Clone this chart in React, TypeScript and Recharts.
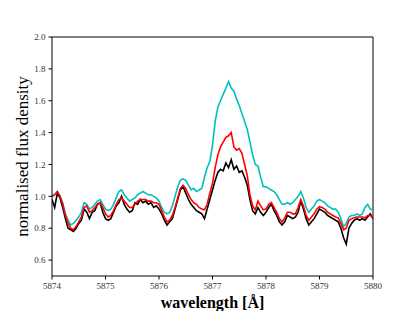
import {
  LineChart,
  Line,
  XAxis,
  YAxis,
  ReferenceLine,
} from "recharts";

const wavelength = [
  5874.0, 5874.05, 5874.1, 5874.15, 5874.2, 5874.25, 5874.3, 5874.35, 5874.4, 5874.45,
  5874.5, 5874.55, 5874.6, 5874.65, 5874.7, 5874.75, 5874.8, 5874.85, 5874.9, 5874.95,
  5875.0, 5875.05, 5875.1, 5875.15, 5875.2, 5875.25, 5875.3, 5875.35, 5875.4, 5875.45,
  5875.5, 5875.55, 5875.6, 5875.65, 5875.7, 5875.75, 5875.8, 5875.85, 5875.9, 5875.95,
  5876.0, 5876.05, 5876.1, 5876.15, 5876.2, 5876.25, 5876.3, 5876.35, 5876.4, 5876.45,
  5876.5, 5876.55, 5876.6, 5876.65, 5876.7, 5876.75, 5876.8, 5876.85, 5876.9, 5876.95,
  5877.0, 5877.05, 5877.1, 5877.15, 5877.2, 5877.25, 5877.3, 5877.35, 5877.4, 5877.45,
  5877.5, 5877.55, 5877.6, 5877.65, 5877.7, 5877.75, 5877.8, 5877.85, 5877.9, 5877.95,
  5878.0, 5878.05, 5878.1, 5878.15, 5878.2, 5878.25, 5878.3, 5878.35, 5878.4, 5878.45,
  5878.5, 5878.55, 5878.6, 5878.65, 5878.7, 5878.75, 5878.8, 5878.85, 5878.9, 5878.95,
  5879.0, 5879.05, 5879.1, 5879.15, 5879.2, 5879.25, 5879.3, 5879.35, 5879.4, 5879.45,
  5879.5, 5879.55, 5879.6, 5879.65, 5879.7, 5879.75, 5879.8, 5879.85, 5879.9, 5879.95,
  5880.0,
];

const fluxBlack = [
  0.98, 0.93, 1.02, 0.99, 0.93, 0.86, 0.8, 0.79, 0.78, 0.8,
  0.83, 0.85, 0.92, 0.9, 0.86, 0.9, 0.91, 0.95, 0.96, 0.9,
  0.86, 0.85, 0.86, 0.9, 0.94, 0.96, 1.0, 0.95, 0.92, 0.9,
  0.91, 0.96, 0.95, 0.98, 0.96, 0.97, 0.95, 0.96, 0.93, 0.94,
  0.92, 0.89, 0.85, 0.82, 0.84, 0.86, 0.92, 0.98, 1.04, 1.06,
  1.02, 0.98, 0.95, 0.93, 0.91, 0.9, 0.89, 0.86, 0.92, 0.98,
  1.04, 1.1, 1.15, 1.17, 1.16, 1.21, 1.18, 1.23, 1.17, 1.19,
  1.15, 1.16, 1.12, 1.07, 0.98, 0.91, 0.89, 0.93, 0.9, 0.88,
  0.9, 0.93, 0.95, 0.91, 0.88, 0.84, 0.82, 0.84, 0.88, 0.87,
  0.86, 0.87, 0.9, 0.97, 0.92, 0.86, 0.82, 0.84, 0.86, 0.89,
  0.92, 0.91, 0.9, 0.88, 0.87, 0.86, 0.85, 0.84, 0.8, 0.74,
  0.7, 0.8, 0.83, 0.85, 0.86, 0.85, 0.86, 0.85, 0.87, 0.89,
  0.86,
];

const fluxRed = [
  1.0, 1.01, 1.03, 1.0, 0.95, 0.88, 0.83, 0.8, 0.79, 0.81,
  0.84, 0.87, 0.93, 0.94, 0.9, 0.91, 0.93, 0.95, 0.96, 0.93,
  0.89, 0.87, 0.88, 0.91, 0.95, 0.98, 0.99, 0.97, 0.95, 0.93,
  0.93, 0.95, 0.97, 0.98, 0.98, 0.98, 0.97, 0.97, 0.96, 0.96,
  0.95, 0.91, 0.87, 0.84, 0.85, 0.88, 0.93, 0.99, 1.05, 1.07,
  1.05, 1.01, 0.98, 0.96, 0.95, 0.93, 0.92, 0.915, 0.95, 1.02,
  1.08, 1.18, 1.26, 1.31, 1.34, 1.37, 1.38, 1.4, 1.31, 1.29,
  1.3, 1.27, 1.2, 1.13, 1.01, 0.94, 0.915, 0.97, 0.94, 0.915,
  0.92, 0.95, 0.96, 0.93, 0.9, 0.86, 0.84, 0.865, 0.9, 0.9,
  0.89, 0.89, 0.93, 0.98, 0.94, 0.88, 0.85, 0.87, 0.89, 0.92,
  0.935, 0.93, 0.92, 0.9, 0.89, 0.88, 0.87, 0.865, 0.83, 0.79,
  0.8, 0.85, 0.86, 0.865, 0.87, 0.87, 0.87, 0.865, 0.88, 0.88,
  0.87,
];

const fluxCyan = [
  1.0, 1.01, 1.03, 1.0, 0.96, 0.89, 0.85, 0.82, 0.83, 0.85,
  0.87, 0.9, 0.96, 0.95, 0.92, 0.93, 0.95, 0.97, 0.98, 0.95,
  0.92, 0.91, 0.92, 0.95, 0.99, 1.03, 1.04, 1.01, 0.99, 0.97,
  0.98, 0.99, 1.01, 1.02, 1.03, 1.02, 1.01, 1.01, 1.0, 0.99,
  0.97, 0.93, 0.9, 0.89, 0.9, 0.94, 1.0, 1.06, 1.1, 1.11,
  1.1, 1.07, 1.04, 1.05, 1.03, 1.04, 1.05, 1.12, 1.18, 1.22,
  1.32, 1.47, 1.56, 1.6, 1.64, 1.68, 1.72, 1.68, 1.66, 1.61,
  1.57, 1.52, 1.47, 1.42, 1.34, 1.26, 1.2, 1.19, 1.12, 1.06,
  1.06, 1.05, 1.04, 1.03, 1.01, 0.98, 0.95, 0.95, 0.96, 0.95,
  0.96, 0.98, 1.0, 1.03, 0.99, 0.93, 0.9, 0.92, 0.94, 0.97,
  0.98, 0.97, 0.96, 0.94, 0.93, 0.92, 0.92, 0.9, 0.86, 0.81,
  0.83, 0.87, 0.88, 0.88, 0.89, 0.88, 0.89, 0.93, 0.95, 0.92,
  0.915,
];

const xTicks = [5874, 5875, 5876, 5877, 5878, 5879, 5880];
const yTicks = [0.6, 0.8, 1.0, 1.2, 1.4, 1.6, 1.8, 2.0];

const data = wavelength.map((w, i) => ({
  w,
  black: fluxBlack[i],
  red: fluxRed[i],
  cyan: fluxCyan[i],
}));

const tickStyle = {
  fontFamily: "'Liberation Serif', serif",
  fontSize: 9,
  fill: "#333",
};

export default function App() {
  return (
    <div
      style={{
        position: "absolute",
        left: 0,
        top: 0,
        background: "#fff",
        fontFamily: "'Liberation Serif', serif",
      }}
    >
      <LineChart
        width={415}
        height={311}
        data={data}
        margin={{ top: 37, right: 42, left: 0, bottom: 0 }}
      >
        <XAxis
          dataKey="w"
          type="number"
          domain={[5874, 5880]}
          ticks={xTicks}
          allowDataOverflow
          height={35}
          tickSize={3.5}
          tickMargin={3}
          stroke="#000"
          tick={tickStyle}
          tickFormatter={(v) => String(v)}
          label={{
            value: "wavelength [Å]",
            position: "insideBottom",
            offset: 3,
            style: {
              fontFamily: "'Liberation Serif', serif",
              fontWeight: "bold",
              fontSize: 16,
              fill: "#000",
            },
          }}
        />
        <YAxis
          type="number"
          domain={[0.5, 2.0]}
          ticks={yTicks}
          allowDataOverflow
          width={52}
          tickSize={3.5}
          tickMargin={3}
          stroke="#000"
          tick={tickStyle}
          tickFormatter={(v) => v.toFixed(1)}
          label={{
            value: "normalised flux density",
            position: "center",
            angle: -90,
            dx: -4,
            style: {
              fontFamily: "'Liberation Serif', serif",
              fontSize: 17,
              fill: "#000",
            },
          }}
        />
        <ReferenceLine y={2.0} stroke="#000" strokeWidth={1} />
        <ReferenceLine x={5880} stroke="#000" strokeWidth={1} />
        <Line
          dataKey="cyan"
          stroke="#00bfbf"
          strokeWidth={1.6}
          dot={false}
          type="linear"
          isAnimationActive={false}
        />
        <Line
          dataKey="black"
          stroke="#000000"
          strokeWidth={1.6}
          dot={false}
          type="linear"
          isAnimationActive={false}
        />
        <Line
          dataKey="red"
          stroke="#ff0000"
          strokeWidth={1.6}
          dot={false}
          type="linear"
          isAnimationActive={false}
        />
      </LineChart>
    </div>
  );
}
